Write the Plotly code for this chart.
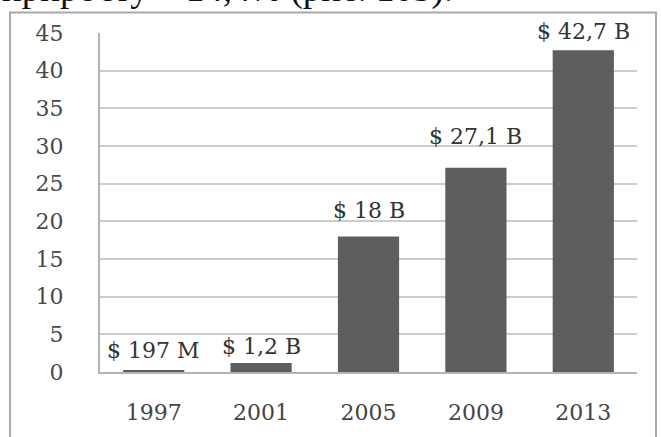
import plotly.graph_objects as go

years = ["1997", "2001", "2005", "2009", "2013"]
values = [0.197, 1.2, 18, 27.1, 42.7]
labels = ["$ 197 M", "$ 1,2 B", "$ 18 B", "$ 27,1 B", "$ 42,7 B"]
label_shift = [20, 16, 26, 31, 19]

W, H = 661, 437
L, R, T, B = 100, 24, 33, 57
pw, ph = W - L - R, H - T - B

def px(xp):
    return (xp - L) / pw

def py(yp):
    return (H - B - yp) / ph

FONT = "DejaVu Serif"

fig = go.Figure()
fig.add_trace(go.Bar(
    x=years, y=values,
    marker=dict(color="#5e5e5e", line=dict(width=0)),
    width=0.57,
))

annotations = []
for i, (v, t, s) in enumerate(zip(values, labels, label_shift)):
    annotations.append(dict(
        x=i, y=v, xref="x", yref="y", text=t, showarrow=False,
        yanchor="middle", xanchor="center", yshift=s,
        font=dict(family=FONT, size=22, color="#333333"),
    ))

annotations.append(dict(
    x=px(0), y=py(11.5), xref="paper", yref="paper",
    text="приросту – 14,4% (рис. 105).", showarrow=False,
    xanchor="left", yanchor="bottom",
    font=dict(family="Liberation Serif", size=37, color="#111111"),
))

fig.update_layout(
    width=W, height=H,
    margin=dict(l=L, r=R, t=T, b=B),
    paper_bgcolor="white", plot_bgcolor="white",
    showlegend=False,
    annotations=annotations,
    shapes=[dict(
        type="rect", xref="paper", yref="paper",
        x0=px(10), x1=px(656), y0=py(460), y1=py(12),
        line=dict(color="#a8a8a8", width=2), layer="below",
    )],
)
fig.update_xaxes(
    type="category", range=[-0.5, 4.5], autorange=False,
    showline=True, linecolor="#b4b4b4", linewidth=2,
    showgrid=False, ticks="",
    ticklabelstandoff=20,
    tickfont=dict(family=FONT, size=22, color="#444444"),
)
fig.update_yaxes(
    range=[0, 45], dtick=5, tick0=0, autorange=False,
    showline=True, linecolor="#b4b4b4", linewidth=2,
    showgrid=True, gridcolor="#cccccc", gridwidth=1.5,
    zeroline=False, ticks="",
    ticklabelstandoff=30,
    tickfont=dict(family=FONT, size=22, color="#4a4a4a"),
)

fig.write_html(
    "out.html",
    config={"displayModeBar": False},
    post_script="document.body.style.margin='0';document.body.style.overflow='hidden';",
)
